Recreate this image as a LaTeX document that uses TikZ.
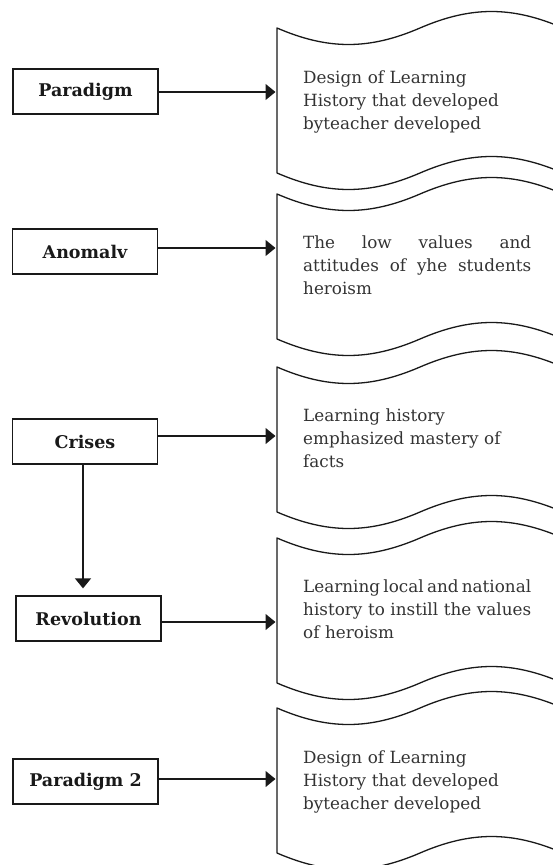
\documentclass[tikz,border=0pt]{standalone}
\usepackage{fontspec}
\setmainfont{DejaVu Serif}
\usetikzlibrary{arrows.meta,calc}
\newcommand{\jline}[1]{\leavevmode\hbox to 228pt{#1}}
\newcommand{\jsp}{\hskip 0pt plus 1fil\relax}
\newcommand{\jgap}[1]{\hskip #1 plus 1fil\relax}
\tikzset{
  lbl/.style={draw=black!90, line width=1.3pt, minimum width=145pt, minimum height=45pt,
    inner sep=0pt, font=\fontsize{17.5}{21}\selectfont\bfseries, text=black!90},
  tapearea/.style={minimum width=286pt, minimum height=145pt, inner sep=0pt, anchor=north west},
  tapetext/.style={text width=228pt, align=left, inner sep=0pt, anchor=base west,
    font=\fontsize{16.8}{23}\selectfont, text=black!80},
  arr/.style={draw=black!90, line width=1.3pt, -{Triangle[length=10pt,width=16pt]}},
  tapeline/.style={draw=black!90, line width=1.3pt, line join=round},
  tapeshape/.pic={\path[tapeline] (0,0) .. controls (51,22) and (92,22) .. (143,0)
      .. controls (194,-22) and (235,-22) .. (286,0) -- (286,145)
      .. controls (235,123) and (194,123) .. (143,145)
      .. controls (92,167) and (51,167) .. (0,145) -- cycle;}
}
\begin{document}
\begin{tikzpicture}[x=1pt,y=-1pt]
\useasboundingbox (0,0) rectangle (553,865);
% left boxes
\node[lbl] (p1) at (85.5,91.5) {Paradigm};
\node[lbl] (an) at (85,251.5) {Anomalv};
\node[lbl] (cr) at (85,441.5) {Crises};
\node[lbl] (rv) at (88.5,618.5) {Revolution};
\node[lbl] (p2) at (85.5,781.5) {Paradigm 2};
% tape areas
\node[tapearea] (t1) at (277,28) {};
\node[tapearea] (t2) at (277,194) {};
\node[tapearea] (t3) at (277,367) {};
\node[tapearea] (t4) at (277,538) {};
\node[tapearea] (t5) at (277,708) {};
\begin{scope}
\clip (0,0) rectangle (553,865);
\pic at (t1.north west) {tapeshape};
\pic at (t2.north west) {tapeshape};
\pic at (t3.north west) {tapeshape};
\pic at (t4.north west) {tapeshape};
\pic at (t5.north west) {tapeshape};
\end{scope}
% texts
\node[tapetext] (x1) at ($(t1.north west)+(26,55)$) {Design of Learning\\History that developed\\byteacher developed};
\node[tapetext] (x2) at ($(t2.north west)+(26,54)$) {\jline{The\jsp low\jsp values\jsp and}\\\jline{attitudes\jsp of\jsp yhe\jsp students}\\heroism};
\node[tapetext] (x3) at ($(t3.north west)+(26,54)$) {Learning history\\emphasized mastery of\\facts};
\node[tapetext] (x4) at ($(t4.north west)+(26,54)$) {\jline{Learning\jgap{2pt}local\jgap{2pt}and\jgap{2pt}national}\\\jline{history\jgap{3pt}to\jgap{3pt}instill\jgap{3pt}the\jgap{3pt}values}\\of heroism};
\node[tapetext] (x5) at ($(t5.north west)+(26,55)$) {Design of Learning\\History that developed\\byteacher developed};
% arrows
\draw[arr, shorten >=1.5pt] ([yshift=-0.5pt]p1.east) -- ([yshift=-0.5pt]p1.east -| t1.west);
\draw[arr, shorten >=1.5pt] ([yshift=3.5pt]an.east) -- ([yshift=3.5pt]an.east -| t2.west);
\draw[arr, shorten >=1.5pt] ([yshift=5.5pt]cr.east) -- ([yshift=5.5pt]cr.east -| t3.west);
\draw[arr, shorten >=1.5pt] ([yshift=-3.5pt]rv.east) -- ([yshift=-3.5pt]rv.east -| t4.west);
\draw[arr, shorten >=1.5pt] ([yshift=2.5pt]p2.east) -- ([yshift=2.5pt]p2.east -| t5.west);
\draw[arr, shorten >=7pt] ([xshift=-2pt]cr.south) -- ([xshift=-2pt]cr.south |- rv.north);
\end{tikzpicture}
\end{document}
